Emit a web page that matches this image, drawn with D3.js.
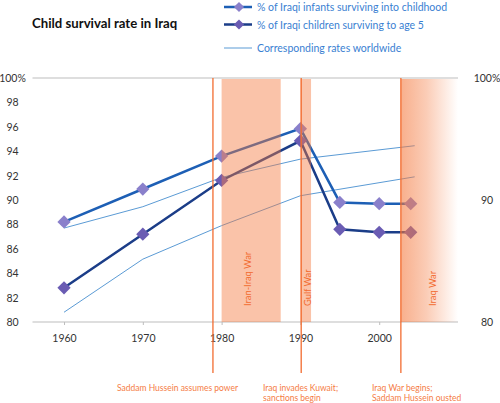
<!DOCTYPE html>
<html>
<head>
<meta charset="utf-8">
<script src="https://cdn.jsdelivr.net/npm/d3@7"></script>
<style>
  body { margin: 0; background: #fff; }
  svg { font-family: Lato, "Open Sans", sans-serif; }
</style>
</head>
<body>
<div id="chart"></div>
<script>
// Data
const years = [1960, 1970, 1980, 1990, 1995, 2000, 2004]
const infants = [88.2, 90.9, 93.6, 95.85, 89.8, 89.7, 89.7]
const children = [82.8, 87.2, 91.6, 94.85, 87.6, 87.35, 87.35]
const worldYears = [1960, 1970, 1980, 1990, 2004.5]
const worldInfants = [87.7, 89.45, 91.85, 93.35, 94.45]
const worldChildren = [80.8, 85.15, 87.9, 90.35, 91.9]
const xTicks = [1960, 1970, 1980, 1990, 2000]
const yTicksLeft = [80, 82, 84, 86, 88, 90, 92, 94, 96, 98, 100]
const yTicksRight = [80, 90, 100]
const wars = [
  { name: 'Iran-Iraq War', start: 1980, end: 1987.5 },
  { name: 'Gulf War', start: 1990, end: 1991.35 },
]
const iraqWar = { name: 'Iraq War', start: 2002.75, end: 2010 }
const events = [
  { year: 1978.9, lines: ['Saddam Hussein assumes power'] },
  { year: 1990.1, lines: ['Iraq invades Kuwait;', 'sanctions begin'] },
  { year: 2002.75, lines: ['Iraq War begins;', 'Saddam Hussein ousted'] },
]
const legendLabels = [
  '% of Iraqi infants surviving into childhood',
  '% of Iraqi children surviving to age 5',
  'Corresponding rates worldwide',
]

// Dimensions
const width = 500
const height = 403

const svg = d3.select('#chart')
  .append('svg')
  .attr('width', width)
  .attr('height', height)

// Scales
const xScale = d3.scaleLinear()
  .domain([1956, 2010])
  .range([32.5, 458])

const yScale = d3.scaleLinear()
  .domain([80, 100])
  .range([322, 78])

const orange = '#f26b2f'
const gridGray = '#bdbdbd'

// Title
svg.append('text')
  .attr('x', 32)
  .attr('y', 28)
  .attr('font-size', 13.2)
  .attr('font-weight', 'bold')
  .attr('fill', '#111')
  .text('Child survival rate in Iraq')

// Gradient for Iraq war band
const defs = svg.append('defs')
const grad = defs.append('linearGradient')
  .attr('id', 'iraqWarGrad')
  .attr('x1', 0).attr('x2', 1).attr('y1', 0).attr('y2', 0)
grad.append('stop').attr('offset', '0%').attr('stop-color', '#f47a40').attr('stop-opacity', 0.6)
grad.append('stop').attr('offset', '45%').attr('stop-color', '#f47a40').attr('stop-opacity', 0.38)
grad.append('stop').attr('offset', '100%').attr('stop-color', '#f47a40').attr('stop-opacity', 0)

// Top grid line and bottom axis line
svg.append('line')
  .attr('x1', xScale.range()[0]).attr('x2', xScale.range()[1])
  .attr('y1', yScale(100)).attr('y2', yScale(100))
  .attr('stroke', gridGray).attr('stroke-width', 1)

const xAxis = d3.axisBottom(xScale)
  .tickValues(xTicks)
  .tickFormat(d3.format('d'))
  .tickSize(3)
  .tickPadding(10)

const xAxisGroup = svg.append('g')
  .attr('transform', `translate(0, ${yScale(80)})`)
  .call(xAxis)
xAxisGroup.select('.domain').attr('stroke', gridGray).attr('d', `M${xScale.range()[0]},0H${xScale.range()[1]}`)
xAxisGroup.selectAll('.tick line').attr('stroke', gridGray)
xAxisGroup.selectAll('.tick text')
  .attr('font-size', 10.5)
  .attr('fill', '#333')
  .attr('font-family', 'Lato, "Open Sans", sans-serif')

// Y tick labels (left and right)
svg.append('g')
  .selectAll('text')
  .data(yTicksLeft)
  .join('text')
  .attr('x', 12.5)
  .attr('y', d => yScale(d) + 4)
  .attr('text-anchor', 'middle')
  .attr('font-size', 10.5)
  .attr('fill', '#333')
  .text(d => d === 100 ? '100%' : d)

svg.append('g')
  .selectAll('text')
  .data(yTicksRight)
  .join('text')
  .attr('x', 487)
  .attr('y', d => yScale(d) + 4)
  .attr('text-anchor', 'middle')
  .attr('font-size', 10.5)
  .attr('fill', '#333')
  .text(d => d === 100 ? '100%' : d)

// Lines
const line = d3.line()
  .x(d => xScale(d[0]))
  .y(d => yScale(d[1]))

const worldColor = '#5b9bd5'
;[worldInfants, worldChildren].forEach(vals => {
  svg.append('path')
    .datum(worldYears.map((y, i) => [y, vals[i]]))
    .attr('d', line)
    .attr('fill', 'none')
    .attr('stroke', worldColor)
    .attr('stroke-width', 1)
})

const series = [
  { values: infants, line: '#1d5fb5', marker: '#8a80cb' },
  { values: children, line: '#1b3d88', marker: '#6a5cb3' },
]

const diamond = d3.symbol(d3.symbolSquare, 88)
const smallDiamond = d3.symbol(d3.symbolSquare, 52)

series.forEach(s => {
  const pts = years.map((y, i) => [y, s.values[i]])
  svg.append('path')
    .datum(pts)
    .attr('d', line)
    .attr('fill', 'none')
    .attr('stroke', s.line)
    .attr('stroke-width', 2.5)
  svg.append('g')
    .selectAll('path')
    .data(pts)
    .join('path')
    .attr('d', diamond)
    .attr('transform', d => `translate(${xScale(d[0])}, ${yScale(d[1])}) rotate(45)`)
    .attr('fill', s.marker)
})

// War bands (drawn over the lines)
svg.append('g')
  .selectAll('rect')
  .data(wars)
  .join('rect')
  .attr('x', d => xScale(d.start))
  .attr('width', d => xScale(d.end) - xScale(d.start))
  .attr('y', yScale(100) + 1)
  .attr('height', yScale(80) - yScale(100) - 1)
  .attr('fill', '#f47a40')
  .attr('opacity', 0.45)

svg.append('rect')
  .attr('x', xScale(iraqWar.start))
  .attr('width', xScale(iraqWar.end) - xScale(iraqWar.start))
  .attr('y', yScale(100) + 1)
  .attr('height', yScale(80) - yScale(100) - 1)
  .attr('fill', 'url(#iraqWarGrad)')

// Band labels
const bandLabels = [
  { name: wars[0].name, x: 251 },
  { name: wars[1].name, x: 311 },
  { name: iraqWar.name, x: 436 },
]
svg.append('g')
  .selectAll('text')
  .data(bandLabels)
  .join('text')
  .attr('transform', d => `translate(${d.x}, 306) rotate(-90)`)
  .attr('font-size', 9.3)
  .attr('fill', orange)
  .text(d => d.name)

// Event lines
svg.append('g')
  .selectAll('line')
  .data(events)
  .join('line')
  .attr('x1', d => xScale(d.year))
  .attr('x2', d => xScale(d.year))
  .attr('y1', yScale(100))
  .attr('y2', 373)
  .attr('stroke', orange)
  .attr('stroke-width', 1.3)

// Event annotations
const annoX = [117, 263, 372]
events.forEach((e, i) => {
  const t = svg.append('text')
    .attr('x', annoX[i])
    .attr('y', 391)
    .attr('font-size', 8.5)
    .attr('fill', '#f57c45')
  e.lines.forEach((l, j) => {
    t.append('tspan')
      .attr('x', annoX[i])
      .attr('dy', j === 0 ? 0 : 9.5)
      .text(l)
  })
})

// Legend
const legendY = [7, 24.5, 48]
const legendG = svg.append('g')
series.forEach((s, i) => {
  legendG.append('line')
    .attr('x1', 224).attr('x2', 252)
    .attr('y1', legendY[i]).attr('y2', legendY[i])
    .attr('stroke', s.line).attr('stroke-width', 2.5)
  legendG.append('path')
    .attr('d', smallDiamond)
    .attr('transform', `translate(239, ${legendY[i]}) rotate(45)`)
    .attr('fill', s.marker)
})
legendG.append('line')
  .attr('x1', 224).attr('x2', 252)
  .attr('y1', legendY[2]).attr('y2', legendY[2])
  .attr('stroke', worldColor).attr('stroke-width', 1)

legendG.selectAll('text')
  .data(legendLabels)
  .join('text')
  .attr('x', 257)
  .attr('y', (d, i) => legendY[i] + 4)
  .attr('font-size', 10.5)
  .attr('fill', '#3a7fd2')
  .text(d => d)
</script>
</body>
</html>
